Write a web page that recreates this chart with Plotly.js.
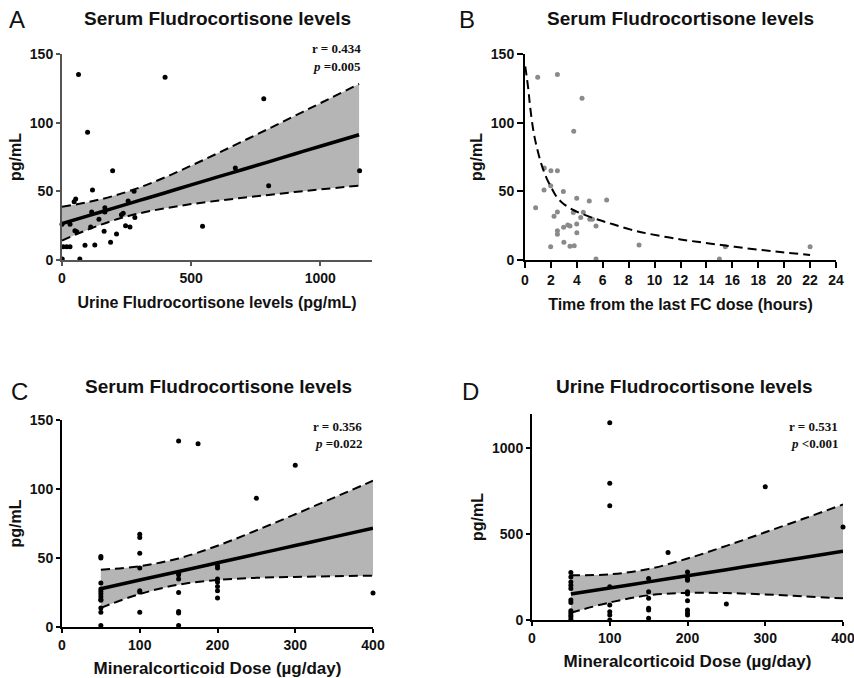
<!DOCTYPE html>
<html>
<head>
<meta charset="utf-8">
<script src="https://cdn.plot.ly/plotly-3.0.1.min.js"></script>
<style>html,body{margin:0;padding:0;background:#fff;}#chart{width:854px;height:678px;}</style>
</head>
<body>
<div id="chart"></div>
<script>
// ---------- Panel A: serum vs urine fludrocortisone ----------
const aUrine = [64, 399, 99, 781, 671, 800, 1152, 544, 196, 118, 53, 47, 279, 256, 115, 166, 166, 143, 31, 0, 237, 230, 282, 57, 50, 163, 111, 246, 263, 211, 188, 127, 89, 5, 18, 31, 1, 69];
const aSerum = [135, 133, 93, 117.5, 67, 54, 65, 24.5, 65, 51, 44.4, 42.5, 50, 43, 35, 38, 35, 29.6, 26, 26, 34, 33, 31, 20.6, 21.3, 21, 24, 25, 24, 19, 13, 11, 10.7, 9.7, 9.7, 9.7, 0.7, 0.7];
const aBandX = [0, 100, 200, 300, 400, 500, 600, 700, 800, 900, 1000, 1150];
const aFit   = [26.5, 32.1, 37.8, 43.4, 49.0, 54.7, 60.3, 65.9, 71.5, 77.2, 82.8, 91.2];
const aUpper = [38.8, 42.1, 46.7, 52.8, 60.3, 68.7, 77.5, 86.5, 95.6, 104.9, 114.2, 128.2];
const aLower = [14.2, 22.1, 28.9, 34.0, 37.7, 40.7, 43.1, 45.3, 47.4, 49.5, 51.4, 54.2];

// ---------- Panel B: serum vs time from last dose ----------
const bHours = [0.98, 2.5, 4.4, 3.76, 1.49, 2.0, 2.5, 1.98, 1.47, 2.96, 3.99, 4.96, 6.3, 0.82, 2.5, 3.73, 4.5, 2.24, 4.3, 5.0, 5.2, 2.98, 3.3, 3.47, 3.99, 5.48, 2.5, 2.5, 4.0, 3.0, 1.98, 3.47, 3.8, 8.8, 15.46, 22, 5.48, 15];
const bSerum = [133, 135, 117.7, 93.7, 67, 65, 65, 54, 51, 49.8, 45, 43, 43.7, 38, 35, 34.5, 34.7, 31.8, 31, 29.6, 29.6, 23.8, 25.5, 24.8, 26.2, 24.8, 21.3, 18.7, 19.9, 12.9, 9.7, 10, 10.4, 11, 9.7, 9.7, 0.7, 0.7];
const bCurveX = [0.02, 0.26, 0.39, 0.64, 0.9, 1.29, 1.67, 2.0, 2.44, 2.96, 3.73, 4.76, 5.79, 6.8, 8.1, 9.4, 12, 14.5, 17.1, 19.7, 22];
const bCurveY = [141, 124, 112, 94.6, 82.5, 69, 59.5, 53.4, 46, 41, 36.4, 32.3, 28.9, 26, 22.3, 19.4, 15, 11.7, 8.5, 5.8, 3.6];

// ---------- Panel C: serum vs mineralocorticoid dose ----------
const cDose = [50,50,50,50,50,50,50,50,50,50,50,50, 100,100,100,100,100,100,100, 150,150,150,150,150,150,150,150, 175, 200,200,200,200,200,200,200, 250, 300, 400];
const cSerum = [51,50,31.8,27.5,25.8,24,22,20,19.3,13.7,10.6,1, 67.3,64.9,53.5,42.7,26.3,25.3,10.6, 134.8,39,37.9,34.7,25,11.3,10.1,1, 132.7, 44.4,42.7,34.7,32.6,29.4,26.3,21, 93.3, 117.2, 24.6];
const cBandX = [50, 100, 150, 200, 250, 300, 350, 400];
const cFit   = [27.7, 34, 40.2, 46.5, 52.8, 59, 65.3, 71.6];
const cUpper = [41.5, 44.1, 49.7, 58.9, 70, 81.7, 93.8, 106];
const cLower = [13.9, 23.9, 30.7, 34.1, 35.6, 36.3, 36.8, 37.2];

// ---------- Panel D: urine vs mineralocorticoid dose ----------
const dDose = [50,50,50,50,50,50,50,50,50,50,50,50, 100,100,100,100,100,100,100,100, 150,150,150,150,150,150, 175, 200,200,200,200,200,200,200,200,200, 250, 300, 400];
const dUrine = [277,251,222,203,184,116,102,54,42.5,29,19,4, 1149,797,665,193,87,48,29,0, 242,164,126,68,58,10, 393, 280,242,232,164,151,112,58,42.5,29, 93, 776, 542];
const dBandX = [50, 100, 150, 200, 250, 300, 350, 400];
const dFit   = [151, 186.6, 222.1, 257.7, 293.3, 328.9, 364.4, 400];
const dUpper = [261, 266, 297, 358, 432, 511, 591, 673];
const dLower = [42.5, 102, 144, 158, 157, 149, 138, 126];

// ---------- styling ----------
const SANS = 'Liberation Sans, Arial, sans-serif';
const NARROW = 'Liberation Sans Narrow, Arial Narrow, Liberation Sans, Arial, sans-serif';
const SERIF = 'Liberation Serif, Times New Roman, serif';
const BAND = '#b5b5b5';
const W = 854, H = 678;
const px = v => v / W;
const py = v => 1 - v / H;

function panel(xa, ya, bx, up, lo, fit, ptsX, ptsY, ptColor) {
  const t = [];
  if (lo) t.push({x: bx, y: lo, xaxis: xa, yaxis: ya, mode: 'lines', line: {color: '#000', width: 2, dash: '9px,5px', shape: 'spline'}, hoverinfo: 'skip', showlegend: false});
  if (up) t.push({x: bx, y: up, xaxis: xa, yaxis: ya, mode: 'lines', fill: lo ? 'tonexty' : 'none', fillcolor: BAND, line: {color: '#000', width: 2, dash: '9px,5px', shape: 'spline'}, hoverinfo: 'skip', showlegend: false});
  if (fit) t.push({x: bx, y: fit, xaxis: xa, yaxis: ya, mode: 'lines', line: {color: '#000', width: 3.5, shape: 'spline'}, showlegend: false});
  t.push({x: ptsX, y: ptsY, xaxis: xa, yaxis: ya, mode: 'markers', marker: {color: ptColor, size: 5}, cliponaxis: false, showlegend: false});
  return t;
}

const traces = [].concat(
  panel('x', 'y', aBandX, aUpper, aLower, aFit, aUrine, aSerum, '#000'),
  panel('x2', 'y2', null, null, null, null, bHours, bSerum, '#8a8a8a'),
  [{x: bCurveX, y: bCurveY, xaxis: 'x2', yaxis: 'y2', mode: 'lines', line: {color: '#000', width: 2, dash: '9px,5px', shape: 'spline'}, showlegend: false}],
  panel('x3', 'y3', cBandX, cUpper, cLower, cFit, cDose, cSerum, '#000'),
  panel('x4', 'y4', dBandX, dUpper, dLower, dFit, dDose, dUrine, '#000')
);

function ax(opts, fam, lineColor) {
  return Object.assign({
    showgrid: false, zeroline: false, showline: true, linecolor: lineColor, linewidth: 2,
    ticks: 'outside', ticklen: 5, tickwidth: 2, tickcolor: lineColor,
    tickfont: {family: fam, size: 14, color: '#111', weight: 'bold'},
    ticklabeloverflow: 'allow',
    fixedrange: true
  }, opts);
}
function ttl(text, fam, size, standoff) {
  return {text: text, font: {family: fam, size: size, color: '#111', weight: 'bold'}, standoff: standoff};
}
function note(text, x, y, fam, size, bold, anchor) {
  return {text: text, x: px(x), y: py(y), xref: 'paper', yref: 'paper', xanchor: anchor || 'center', yanchor: 'middle',
    showarrow: false, font: {family: fam, size: size, color: '#111', weight: bold ? 'bold' : 'normal'}};
}

const layout = {
  width: W, height: H,
  margin: {l: 0, r: 0, t: 0, b: 0},
  paper_bgcolor: '#fff', plot_bgcolor: 'rgba(0,0,0,0)',
  showlegend: false,
  xaxis: ax({domain: [px(62), px(372)], range: [0, 1200], tickvals: [0, 500, 1000], anchor: 'y', ticklen: 4,
    title: ttl('Urine Fludrocortisone levels (pg/mL)', SANS, 16, 12)}, SANS, '#555'),
  yaxis: ax({domain: [py(260), py(54)], range: [0, 150], tickvals: [0, 50, 100, 150], anchor: 'x', ticklen: 4,
    title: ttl('pg/mL', SANS, 16, 4)}, SANS, '#555'),
  xaxis2: ax({domain: [px(525), px(836)], range: [0, 24], dtick: 2, tick0: 0, anchor: 'y2', ticklen: 6,
    title: ttl('Time from the last FC dose (hours)', SANS, 16, 12)}, SANS, '#000'),
  yaxis2: ax({domain: [py(260), py(54)], range: [0, 150], tickvals: [0, 50, 100, 150], anchor: 'x2', ticklen: 6,
    title: ttl('pg/mL', SANS, 16, 4)}, SANS, '#000'),
  xaxis3: ax({domain: [px(62), px(373)], range: [0, 400], tickvals: [0, 100, 200, 300, 400], anchor: 'y3', ticklen: 4,
    title: ttl('Mineralcorticoid Dose (µg/day)', NARROW, 17, 10)}, NARROW, '#000'),
  yaxis3: ax({domain: [py(627), py(420)], range: [0, 150], tickvals: [0, 50, 100, 150], anchor: 'x3', ticklen: 4,
    title: ttl('pg/mL', SANS, 16, 4)}, NARROW, '#000'),
  xaxis4: ax({domain: [px(532), px(843)], range: [0, 400], tickvals: [0, 100, 200, 300, 400], anchor: 'y4', ticklen: 4,
    title: ttl('Mineralcorticoid Dose (µg/day)', NARROW, 17, 10)}, NARROW, '#000'),
  yaxis4: ax({domain: [py(620), py(414)], range: [0, 1200], tickvals: [0, 500, 1000], anchor: 'x4', ticklen: 4,
    title: ttl('pg/mL', SANS, 16, 4)}, NARROW, '#000'),
  annotations: [
    note('A', 17, 19, SANS, 24, false),
    note('B', 467, 19, SANS, 24, false),
    note('C', 19, 391, NARROW, 24, false),
    note('D', 471, 391, NARROW, 24, false),
    note('Serum Fludrocortisone levels', 217, 18, SANS, 19, true),
    note('Serum Fludrocortisone levels', 680, 18, SANS, 19, true),
    note('Serum Fludrocortisone levels', 218, 386, NARROW, 19, true),
    note('Urine Fludrocortisone levels', 684, 386, NARROW, 19, true),
    note('r = 0.434', 363, 49, SERIF, 13, true, 'right'),
    note('<i>p</i> =0.005', 363, 66, SERIF, 13, true, 'right'),
    note('r = 0.356', 364, 426, SERIF, 13, true, 'right'),
    note('<i>p</i> =0.022', 364, 443, SERIF, 13, true, 'right'),
    note('r = 0.531', 840, 426, SERIF, 13, true, 'right'),
    note('<i>p</i> <0.001', 840, 443, SERIF, 13, true, 'right')
  ]
};

Plotly.newPlot('chart', traces, layout, {displayModeBar: false, staticPlot: true});
</script>
</body>
</html>
